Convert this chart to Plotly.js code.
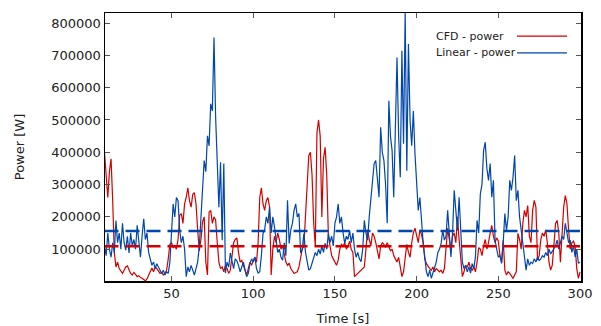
<!DOCTYPE html>
<html>
<head>
<meta charset="utf-8">
<script src="https://cdn.plot.ly/plotly-3.0.1.min.js"></script>
<style>html,body{margin:0;padding:0;background:#fff;}#chart{width:601px;height:326px;}</style>
</head>
<body>
<div id="chart"></div>
<script>
// Sampling grid (seconds)
const timeStart = 9;
const timeStep = 1;

// CFD - power [W], one value per second from t = 9 s to t = 300 s
const cfdPower = [
400000,330000,260000,340000,380000,250000,90000,45000,60000,40000,
30000,25000,35000,45000,48000,35000,25000,20000,28000,22000,
15000,18000,12000,10000,5000,2000,8000,20000,35000,42000,
30000,45000,40000,30000,25000,28000,20000,25000,35000,70000,
115000,120000,105000,110000,100000,130000,205000,210000,180000,240000,
260000,290000,250000,230000,270000,275000,240000,160000,95000,130000,
185000,200000,60000,20000,215000,220000,180000,200000,190000,120000,
60000,40000,45000,30000,50000,40000,25000,35000,80000,120000,
130000,135000,90000,60000,65000,50000,40000,20000,40000,60000,
50000,65000,75000,60000,120000,260000,290000,240000,220000,250000,
260000,230000,20000,100000,140000,120000,150000,130000,100000,110000,
80000,60000,50000,57000,40000,30000,25000,28000,30000,45000,
80000,100000,110000,200000,300000,390000,400000,330000,180000,110000,
460000,500000,450000,200000,380000,415000,330000,140000,110000,80000,
70000,60000,50000,66000,100000,115000,110000,120000,100000,110000,
125000,100000,90000,15000,20000,25000,30000,35000,40000,45000,
100000,160000,130000,110000,150000,140000,120000,90000,70000,110000,
120000,115000,105000,120000,110000,95000,100000,80000,70000,60000,
75000,40000,15000,30000,80000,115000,90000,75000,120000,150000,
165000,140000,120000,160000,145000,120000,70000,55000,45000,40000,
35000,45000,30000,40000,35000,30000,35000,25000,40000,100000,
165000,130000,100000,140000,150000,120000,200000,130000,60000,15000,
30000,50000,45000,60000,40000,35000,45000,30000,60000,105000,
100000,80000,110000,130000,100000,120000,150000,174000,140000,120000,
135000,125000,80000,60000,128000,35000,20000,30000,25000,15000,
10000,20000,30000,149000,130000,100000,180000,220000,200000,235000,
140000,120000,220000,251000,230000,66000,80000,130000,150000,140000,
160000,120000,60000,35000,50000,110000,180000,189000,150000,60000,
130000,230000,266000,240000,160000,100000,120000,125000,110000,40000,
10000,30000
];

// Linear - power [W], one value per second from t = 9 s to t = 300 s
const linearPower = [
110000,80000,150000,100000,75000,120000,90000,189000,120000,150000,
100000,180000,120000,97000,140000,88000,150000,110000,130000,100000,
174000,120000,75000,140000,194000,130000,150000,90000,66000,50000,
60000,40000,55000,45000,30000,25000,35000,20000,30000,25000,
60000,148000,240000,200000,260000,250000,158000,120000,140000,100000,
15000,45000,30000,50000,35000,20000,40000,60000,107000,200000,
260000,374000,340000,451000,420000,550000,528000,755000,508000,395000,
230000,369000,128000,365000,26000,60000,45000,88000,60000,40000,
70000,64000,50000,30000,45000,60000,35000,15000,25000,55000,
70000,60000,76000,40000,26000,30000,80000,148000,160000,200000,
180000,230000,150000,200000,170000,118000,90000,100000,75000,66000,
120000,80000,251000,118000,160000,180000,220000,240000,200000,210000,
88000,100000,148000,90000,60000,35000,40000,55000,75000,90000,
80000,100000,85000,110000,90000,118000,100000,148000,120000,140000,
110000,180000,200000,240000,180000,200000,150000,118000,140000,130000,
158000,120000,150000,100000,75000,90000,70000,61000,100000,189000,
150000,128000,200000,261000,300000,365000,374000,320000,261000,477000,
400000,374000,300000,180000,559000,450000,405000,261000,520000,693000,
450000,323000,714000,426000,835000,343000,735000,498000,420000,528000,
395000,303000,220000,260000,169000,120000,76000,30000,15000,35000,
10000,25000,40000,60000,90000,100000,118000,158000,128000,140000,
220000,150000,76000,150000,282000,220000,158000,261000,150000,60000,
40000,50000,30000,45000,26000,55000,40000,76000,189000,150000,
272000,300000,405000,431000,350000,313000,365000,261000,313000,128000,
100000,76000,80000,56000,120000,210000,158000,200000,313000,282000,
323000,390000,250000,282000,200000,158000,106000,60000,35000,70000,
50000,60000,56000,70000,60000,76000,65000,70000,80000,75000,
90000,80000,100000,85000,95000,100000,110000,128000,100000,120000,
140000,130000,180000,150000,120000,128000,90000,110000,76000,100000,
56000,60000
];

// Mean power levels [W]
const cfdMean = 109000;
const linearMean = 156000;

// Axis ticks
const xTicks = [50, 100, 150, 200, 250, 300];
const yTicks = [100000, 200000, 300000, 400000, 500000, 600000, 700000, 800000];

const times = cfdPower.map((_, i) => timeStart + i * timeStep);
const tEnd = times[times.length - 1];

const red = '#d40000';
const blue = '#0047ab';

const traces = [
  {x: times, y: cfdPower, type: 'scatter', mode: 'lines', name: 'CFD - power',
   line: {color: red, width: 1.2}, hoverinfo: 'skip'},
  {x: times, y: linearPower, type: 'scatter', mode: 'lines', name: 'Linear - power',
   line: {color: blue, width: 1.2}, hoverinfo: 'skip'},
  {x: [timeStart, tEnd], y: [cfdMean, cfdMean], type: 'scatter', mode: 'lines',
   line: {color: red, width: 2.5, dash: '14px,7px'}, showlegend: false, hoverinfo: 'skip'},
  {x: [timeStart, tEnd], y: [linearMean, linearMean], type: 'scatter', mode: 'lines',
   line: {color: blue, width: 2.5, dash: '14px,7px'}, showlegend: false, hoverinfo: 'skip'}
];

const font = {family: 'DejaVu Sans, sans-serif', size: 13, color: '#222'};

const layout = {
  width: 601, height: 326,
  margin: {l: 105, r: 20, t: 13, b: 45},
  paper_bgcolor: '#fff', plot_bgcolor: '#fff',
  showlegend: false,
  font: font,
  xaxis: {
    range: [9.3, 300.6], tickvals: xTicks, ticktext: xTicks.map(String),
    ticks: 'inside', ticklen: 5, tickcolor: '#555', tickwidth: 1,
    showline: true, linecolor: '#000', linewidth: 1.5, mirror: 'allticks',
    showgrid: false, zeroline: false,
    tickfont: font,
    title: {text: 'Time [s]', font: font, standoff: 14}
  },
  yaxis: {
    range: [1500, 831000], tickvals: yTicks, ticktext: yTicks.map(String),
    ticks: 'inside', ticklen: 5, tickcolor: '#555', tickwidth: 1,
    showline: true, linecolor: '#000', linewidth: 1.5, mirror: 'allticks',
    showgrid: false, zeroline: false,
    tickfont: font,
    title: {text: 'Power [W]', font: font, standoff: 23}
  },
  annotations: [
    {text: 'CFD - power', xref: 'paper', yref: 'paper', x: 0.691, y: 0.914,
     xanchor: 'left', yanchor: 'middle', showarrow: false,
     font: {family: 'DejaVu Sans, sans-serif', size: 11, color: '#222'}},
    {text: 'Linear - power', xref: 'paper', yref: 'paper', x: 0.691, y: 0.851,
     xanchor: 'left', yanchor: 'middle', showarrow: false,
     font: {family: 'DejaVu Sans, sans-serif', size: 11, color: '#222'}}
  ],
  shapes: [
    {type: 'line', xref: 'paper', yref: 'paper', x0: 0.8655, x1: 0.9706, y0: 0.914, y1: 0.914,
     line: {color: red, width: 1.2}},
    {type: 'line', xref: 'paper', yref: 'paper', x0: 0.8655, x1: 0.9706, y0: 0.851, y1: 0.851,
     line: {color: blue, width: 1.2}}
  ]
};

Plotly.newPlot('chart', traces, layout, {displayModeBar: false, staticPlot: true});
</script>
</body>
</html>
